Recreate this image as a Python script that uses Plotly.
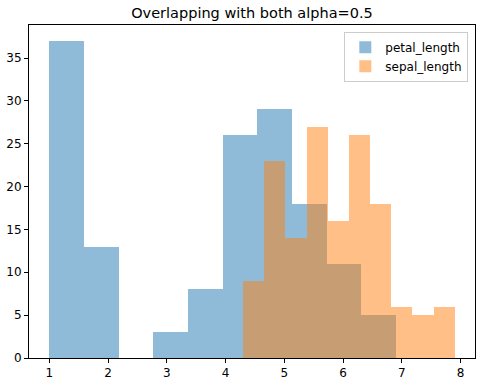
import numpy as np
import plotly.graph_objects as go

# Histogram data (iris), 10 bins each
petal_min, petal_max = 1.0, 6.9
petal_counts = [37, 13, 0, 3, 8, 26, 29, 18, 11, 5]
sepal_min, sepal_max = 4.3, 7.9
sepal_counts = [9, 23, 14, 27, 16, 26, 18, 6, 5, 6]
x_ticks = [1, 2, 3, 4, 5, 6, 7, 8]
y_ticks = [0, 5, 10, 15, 20, 25, 30, 35]

def edges(lo, hi, n):
    return np.linspace(lo, hi, n + 1)

pe = edges(petal_min, petal_max, len(petal_counts))
se = edges(sepal_min, sepal_max, len(sepal_counts))

fig = go.Figure()
fig.add_trace(go.Bar(x=pe[:-1], y=petal_counts, width=np.diff(pe), offset=0,
                     name="petal_length", marker=dict(color="rgba(31,119,180,0.5)", line=dict(width=0))))
fig.add_trace(go.Bar(x=se[:-1], y=sepal_counts, width=np.diff(se), offset=0,
                     name="sepal_length", marker=dict(color="rgba(255,127,14,0.5)", line=dict(width=0))))

xr = (sepal_max - petal_min) * 0.05
fig.update_layout(
    width=477, height=381,
    margin=dict(l=29, r=2, t=25, b=23),
    barmode="overlay", bargap=0,
    plot_bgcolor="white", paper_bgcolor="white",
    font=dict(family="DejaVu Sans", size=12, color="black"),
    title=dict(text="Overlapping with both alpha=0.5", x=0.5, xref="paper", xanchor="center",
               y=1 - 13/381, yanchor="middle", font=dict(size=14.5)),
    xaxis=dict(range=[petal_min - xr, sepal_max + xr], tickvals=x_ticks, ticks="outside",
               ticklen=4, tickcolor="black", showgrid=False, zeroline=False, showline=True,
               linecolor="black", linewidth=1, mirror=True),
    yaxis=dict(range=[0, max(petal_counts) * 1.05], tickvals=y_ticks, ticks="outside",
               ticklen=4, tickcolor="black", showgrid=False, zeroline=False, showline=True,
               linecolor="black", linewidth=1, mirror=True),
    legend=dict(x=0.985, y=0.98, xanchor="right", yanchor="top", bordercolor="#cccccc",
                borderwidth=1, bgcolor="rgba(255,255,255,0.8)", font=dict(size=12),
                tracegroupgap=0),
)
fig.write_html("out.html", config={"displayModeBar": False},
               post_script="document.body.style.margin='0';")
